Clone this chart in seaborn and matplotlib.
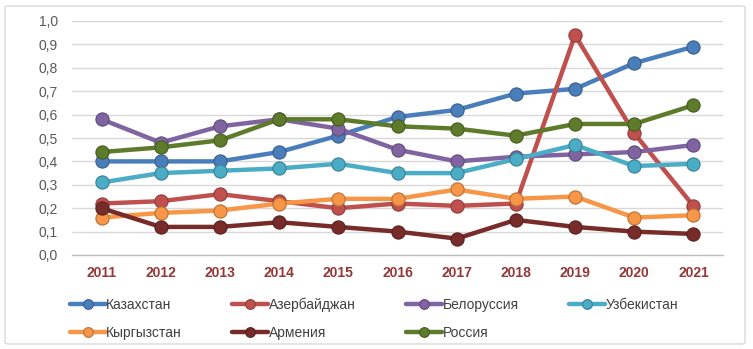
import matplotlib
matplotlib.use("Agg")
import matplotlib.pyplot as plt
import seaborn as sns
import pandas as pd
from matplotlib.patches import FancyBboxPatch

years = ["2011", "2012", "2013", "2014", "2015", "2016", "2017", "2018", "2019", "2020", "2021"]
kazakhstan = [0.40, 0.40, 0.40, 0.44, 0.51, 0.59, 0.62, 0.69, 0.71, 0.82, 0.89]
azerbaijan = [0.22, 0.23, 0.26, 0.23, 0.20, 0.22, 0.21, 0.22, 0.94, 0.52, 0.21]
belarus = [0.58, 0.48, 0.55, 0.58, 0.54, 0.45, 0.40, 0.42, 0.43, 0.44, 0.47]
uzbekistan = [0.31, 0.35, 0.36, 0.37, 0.39, 0.35, 0.35, 0.41, 0.47, 0.38, 0.39]
kyrgyzstan = [0.16, 0.18, 0.19, 0.22, 0.24, 0.24, 0.28, 0.24, 0.25, 0.16, 0.17]
armenia = [0.20, 0.12, 0.12, 0.14, 0.12, 0.10, 0.07, 0.15, 0.12, 0.10, 0.09]
russia = [0.44, 0.46, 0.49, 0.58, 0.58, 0.55, 0.54, 0.51, 0.56, 0.56, 0.64]

series_names = ["Казахстан", "Азербайджан", "Белоруссия", "Узбекистан", "Кыргызстан", "Армения", "Россия"]
series_values = [kazakhstan, azerbaijan, belarus, uzbekistan, kyrgyzstan, armenia, russia]
colors = ["#4A7EBB", "#C0504D", "#8064A2", "#4BACC6", "#F79646", "#772C2A", "#5E7B2C"]

rows = []
for name, vals in zip(series_names, series_values):
    for i, (y, v) in enumerate(zip(years, vals)):
        rows.append({"pos": i, "year": y, "value": v, "country": name})
df = pd.DataFrame(rows)

sns.set_theme(style="white")
plt.rcParams["font.family"] = ["Liberation Sans", "DejaVu Sans"]

fig = plt.figure(figsize=(7.53, 3.49), dpi=100)
ax = fig.add_axes([72/753, 1-255/349, (723-72)/753, (255-21)/349])

palette = dict(zip(series_names, colors))
sns.lineplot(data=df, x="pos", y="value", hue="country", hue_order=series_names,
             palette=palette, marker="o", markersize=9.5, linewidth=3.2,
             markeredgewidth=0.8, ax=ax, legend=True, sort=False)

for line in ax.get_lines():
    c = line.get_color()
    line.set_markeredgecolor(matplotlib.colors.to_hex([max(0, x*0.75) for x in matplotlib.colors.to_rgb(c)]))

handles, labels = ax.get_legend_handles_labels()
ax.get_legend().remove()
order = [0, 4, 1, 5, 2, 6, 3]
handles = [handles[i] for i in order]
labels = [labels[i] for i in order]

ax.set_xlim(-0.5, 10.5)
ax.set_ylim(0, 1.0)
ax.set_yticks([i/10 for i in range(11)])
ax.set_yticklabels([f"{i/10:.1f}".replace(".", ",") for i in range(11)], color="#595959", fontsize=10)
ax.set_xticks(range(len(years)))
ax.set_xticklabels(years, color="#953735", fontsize=10, fontweight="bold")
ax.tick_params(axis="both", length=0, pad=8)
ax.tick_params(axis="y", pad=10)
ax.yaxis.grid(True, color="#D9D9D9", linewidth=1)
ax.set_axisbelow(True)
for s in ["top", "right", "left"]:
    ax.spines[s].set_visible(False)
ax.spines["bottom"].set_color("#BFBFBF")
ax.spines["bottom"].set_linewidth(1)
ax.set_xlabel("")
ax.set_ylabel("")

leg = fig.legend(handles, labels, loc="upper left", bbox_to_anchor=(57/753, 1-285/349),
                 ncol=4, frameon=False, fontsize=10, handlelength=2.6, handletextpad=0.05,
                 columnspacing=3.6, labelspacing=1.0)
for t in leg.get_texts():
    t.set_color("#404040")
for h in leg.legend_handles:
    h.set_markersize(7)

border = FancyBboxPatch((5/753, 5/349), 740/753, 338/349, boxstyle="round,pad=0,rounding_size=0.005",
                        transform=fig.transFigure, facecolor="none", edgecolor="#D9D9D9", linewidth=1)
fig.patches.append(border)

fig.savefig("out.png", dpi=100)
